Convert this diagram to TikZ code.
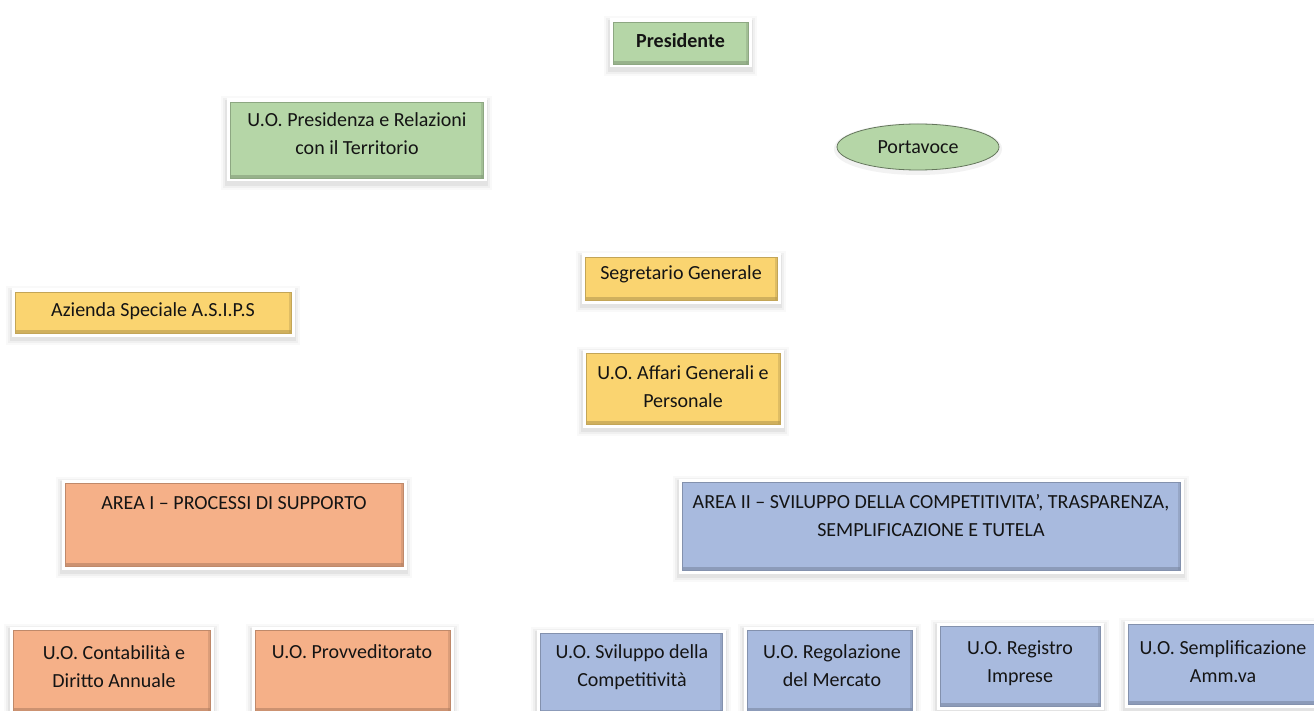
\documentclass[tikz,border=0pt]{standalone}
\usepackage{fontspec}
\setmainfont{Carlito}
\usetikzlibrary{shadows,shapes.geometric}
\definecolor{cgreen}{RGB}{181,214,167}
\definecolor{cyellow}{RGB}{250,212,112}
\definecolor{corange}{RGB}{245,176,136}
\definecolor{cblue}{RGB}{168,186,222}
\definecolor{ctext}{RGB}{20,20,20}
\tikzset{
  ubox/.style={rectangle, inner sep=0pt, fill=#1, draw=#1!78!black, line width=0.7pt,
    general shadow={draw=black, line width=18pt, draw opacity=0.025, shadow yshift=-3pt},
    general shadow={draw=black, line width=14pt, draw opacity=0.035, shadow yshift=-3pt},
    general shadow={draw=black, line width=10pt, draw opacity=0.05, shadow yshift=-3pt},
    preaction={draw=white, line width=7pt},
    path picture={\fill[#1!70!black, opacity=0.55] (path picture bounding box.south west) rectangle ([yshift=3pt]path picture bounding box.south east);
                  \fill[#1!70!black, opacity=0.35] (path picture bounding box.south east) rectangle ([xshift=-2pt]path picture bounding box.north east);}},
  utxt/.style={align=center, text=ctext, inner sep=0pt, font=\fontsize{20}{28}\selectfont},
  uell/.style={ellipse, fill=cgreen, draw=cgreen!55!black, line width=0.8pt, inner sep=0pt,
    general shadow={draw=black, line width=6pt, draw opacity=0.05, shadow yshift=-2pt},
    text=ctext, font=\fontsize{20}{28}\selectfont}
}
\begin{document}
\begin{tikzpicture}[x=1pt,y=-1pt]
\useasboundingbox[fill=white] (0,0) rectangle (1314,711);
% boxes
\node[ubox=cgreen, minimum width=135pt, minimum height=42pt] (pres) at (680.5,43) {};
\node[ubox=cgreen, minimum width=253pt, minimum height=76pt] (presid) at (356.5,140) {};
\node[uell, minimum width=162pt, minimum height=46pt] (porta) at (918,147) {Portavoce};
\node[ubox=cyellow, minimum width=276pt, minimum height=41pt] (az) at (153,312.5) {};
\node[ubox=cyellow, minimum width=192pt, minimum height=43pt] (segr) at (681,278.5) {};
\node[ubox=cyellow, minimum width=194pt, minimum height=71pt] (aff) at (683,388.5) {};
\node[ubox=corange, minimum width=338pt, minimum height=83pt] (a1) at (234,524.5) {};
\node[ubox=cblue, minimum width=498pt, minimum height=88pt] (a2) at (931,526) {};
\node[ubox=corange, minimum width=197pt, minimum height=81pt] (cont) at (111.5,670.5) {};
\node[ubox=corange, minimum width=195pt, minimum height=81pt] (prov) at (352.5,670.5) {};
\node[ubox=cblue, minimum width=182pt, minimum height=80pt] (svil) at (631,673) {};
\node[ubox=cblue, minimum width=165pt, minimum height=81pt] (reg) at (829.5,670.5) {};
\node[ubox=cblue, minimum width=160pt, minimum height=80pt] (regi) at (1020,666) {};
\node[ubox=cblue, minimum width=192pt, minimum height=80pt] (sem) at (1224,664) {};
% texts
\node[utxt] (tpres) at (680.5,41) {\textbf{Presidente}};
\node[utxt] (tpresid) at (357,134) {U.O. Presidenza e Relazioni\\con il Territorio};
\node[utxt] (taz) at (153,311) {Azienda Speciale A.S.I.P.S};
\node[utxt] (tsegr) at (681,274) {Segretario Generale};
\node[utxt] (taff) at (683,387) {U.O. Affari Generali e\\Personale};
\node[utxt] (ta1) at (234,503) {AREA I – PROCESSI DI SUPPORTO};
\node[utxt] (ta2) at (931,516) {AREA II – SVILUPPO DELLA COMPETITIVITA’, TRASPARENZA,\\SEMPLIFICAZIONE E TUTELA};
\node[utxt] (tcont) at (114,667) {U.O. Contabilità e\\Diritto Annuale};
\node[utxt] (tprov) at (352,652) {U.O. Provveditorato};
\node[utxt] (tsvil) at (632,667) {U.O. Sviluppo della\\Competitività};
\node[utxt] (treg) at (832,666) {U.O. Regolazione\\del Mercato};
\node[utxt] (tregi) at (1020,663) {U.O. Registro\\Imprese};
\node[utxt] (tsem) at (1223,662) {U.O. Semplificazione\\Amm.va};
\end{tikzpicture}
\end{document}
